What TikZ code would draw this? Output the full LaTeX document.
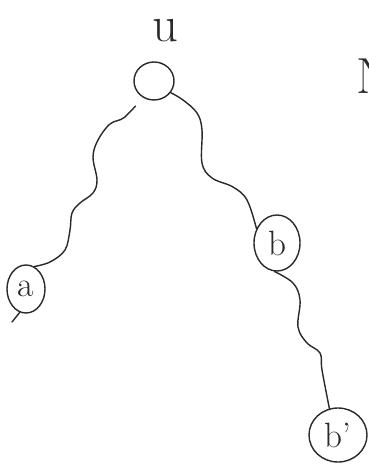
\documentclass[tikz,border=0pt]{standalone}
\usetikzlibrary{shapes.geometric}
\definecolor{ink}{HTML}{2A2A2A}
\tikzset{
  every picture/.style={line width=1pt, color=ink},
  vtx/.style={draw, ellipse, inner sep=0pt, font=\fontsize{25}{25}\selectfont},
  wire/.style={line cap=round, line join=round},
  big/.style={font=\fontsize{36}{36}\selectfont, inner sep=0pt},
}
\begin{document}
\begin{tikzpicture}[x=0.025cm, y=-0.025cm]
  \useasboundingbox (0,0) rectangle (368,465);
  % labels
  \node[big] (ulbl) at (165,31) {u};
  \node[big, anchor=south west] (nlbl) at (356,94) {N};
  % vertices
  \node[vtx, minimum width=1cm, minimum height=0.95cm] (u) at (154,81) {};
  \node[vtx, minimum width=0.95cm, minimum height=1.2cm] (a) at (26,289) {a};
  \node[vtx, minimum width=1.15cm, minimum height=1.4cm] (b) at (277,243) {b};
  \node[vtx, minimum width=1.45cm, minimum height=1.35cm] (b2) at (338,435) {b'};
  \coordinate (tail) at (12,322);
  % wavy edges
  \draw[wire, shorten <=8pt] plot[smooth, tension=0.6] coordinates {(u.235) (125,117) (110,124) (98,140) (93,157) (97,180) (93,193) (80,203) (72,213) (70,230) (65,250) (50,262) (a.70)};
  \draw[wire] plot[smooth, tension=0.6] coordinates {(u.-35) (183,100) (197,113) (202,130) (202,163) (212,178) (233,187) (247,200) (b.145)};
  \draw[wire] plot[smooth, tension=0.6] coordinates {(b.-95) (293,283) (300,300) (298,327) (307,343) (320,353) (322,370) (b2.108)};
  \draw[wire] (a.255) -- (tail);
\end{tikzpicture}
\end{document}
